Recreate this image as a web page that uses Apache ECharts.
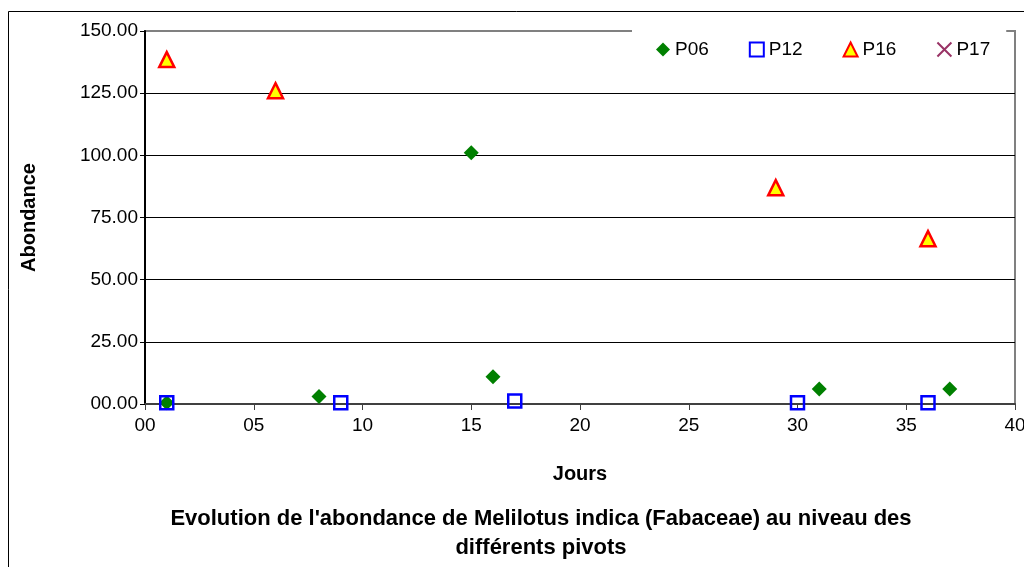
<!DOCTYPE html>
<html>
<head>
<meta charset="utf-8">
<script src="https://cdn.jsdelivr.net/npm/echarts@6/dist/echarts.min.js"></script>
<style>
  html, body { margin: 0; padding: 0; background: #fff; }
  #chart { width: 1024px; height: 567px; }
</style>
</head>
<body>
<div id="chart"></div>
<script>
// Abondance de Melilotus indica par pivot (jours, abondance)
const p06 = [[1, 0.5], [8, 3], [15, 101], [16, 11], [31, 6], [37, 6]];
const p12 = [[1, 0.5], [9, 0.5], [17, 1.2], [30, 0.5], [36, 0.5]];
const p16 = [[1, 138.5], [6, 126], [29, 87], [36, 66.5]];
const p17 = [];

const seriesNames = ["P06", "P12", "P16", "P17"];
const titleText = "Evolution de l'abondance de Melilotus indica (Fabaceae) au niveau des\ndifférents pivots";

const font = "'Liberation Sans', Arial, sans-serif";
const crossPath = "path://M0,0L10,10M10,0L0,10";

const chart = echarts.init(document.getElementById("chart"));

const option = {
  animation: false,
  grid: {
    left: 145,
    right: 9,
    top: 31,
    bottom: 163,
    outerBoundsMode: "none",
    containLabel: false,
    show: true,
    borderColor: "#808080",
    borderWidth: 2,
    backgroundColor: "transparent"
  },
  legend: {
    data: [
      { name: "P06", icon: "diamond" },
      { name: "P12", icon: "rect" },
      { name: "P16", icon: "triangle" },
      { name: "P17", icon: crossPath }
    ],
    left: 632,
    top: 26,
    padding: [14, 16, 14, 24],
    backgroundColor: "#fff",
    itemWidth: 14,
    itemHeight: 14,
    itemGap: 40,
    textStyle: { fontFamily: font, fontSize: 19, color: "#000" }
  },
  xAxis: {
    type: "value",
    min: 0,
    max: 40,
    interval: 5,
    name: "Jours",
    nameLocation: "middle",
    nameGap: 60,
    nameTextStyle: { fontFamily: font, fontSize: 20, fontWeight: "bold", color: "#000" },
    axisLine: { show: true, onZero: false, lineStyle: { color: "#404040", width: 2 } },
    axisTick: { show: true, length: 6, lineStyle: { color: "#404040" } },
    axisLabel: {
      fontFamily: font, fontSize: 19, color: "#000", margin: 12,
      formatter: v => String(v).padStart(2, "0")
    },
    splitLine: { show: false }
  },
  yAxis: {
    type: "value",
    min: 0,
    max: 150,
    interval: 25,
    name: "Abondance",
    nameLocation: "middle",
    nameGap: 106,
    nameRotate: 90,
    nameTextStyle: { fontFamily: font, fontSize: 20, fontWeight: "bold", color: "#000" },
    axisLine: { show: true, onZero: false, lineStyle: { color: "#000", width: 2 } },
    axisTick: { show: true, length: 5, lineStyle: { color: "#000" } },
    axisLabel: {
      fontFamily: font, fontSize: 19, color: "#000", margin: 7,
      formatter: v => {
        const s = v.toFixed(2);
        return v < 10 ? "0" + s : s;
      }
    },
    splitLine: { show: true, showMinLine: false, showMaxLine: false, lineStyle: { color: "#000", width: 1 } }
  },
  series: [
    {
      name: seriesNames[0],
      type: "scatter",
      data: p06,
      symbol: "diamond",
      symbolSize: 15,
      itemStyle: { color: "#008000", opacity: 1 },
      z: 3
    },
    {
      name: seriesNames[1],
      type: "scatter",
      data: p12,
      symbol: "rect",
      symbolSize: 13,
      itemStyle: { color: "rgba(0,0,0,0)", borderColor: "#0000ff", borderWidth: 2.5, opacity: 1 },
      z: 4
    },
    {
      name: seriesNames[2],
      type: "scatter",
      data: p16,
      symbol: "triangle",
      symbolSize: 15,
      itemStyle: { color: "#ffff00", borderColor: "#ff0000", borderWidth: 2.5, opacity: 1 },
      z: 5
    },
    {
      name: seriesNames[3],
      type: "scatter",
      data: p17,
      symbol: crossPath,
      symbolSize: 13,
      itemStyle: { color: "#993366", borderColor: "#993366", borderWidth: 2, opacity: 1 }
    }
  ],
  graphic: [
    {
      type: "rect",
      shape: { x: 8.5, y: 11.5, width: 1100, height: 700 },
      style: { fill: "none", stroke: "#000", lineWidth: 1 },
      silent: true,
      z: -10
    },
    {
      type: "text",
      x: 541,
      y: 504,
      style: {
        text: titleText,
        textAlign: "center",
        fontFamily: font,
        fontSize: 22,
        fontWeight: "bold",
        lineHeight: 29,
        fill: "#000"
      }
    }
  ]
};

chart.setOption(option);
</script>
</body>
</html>
